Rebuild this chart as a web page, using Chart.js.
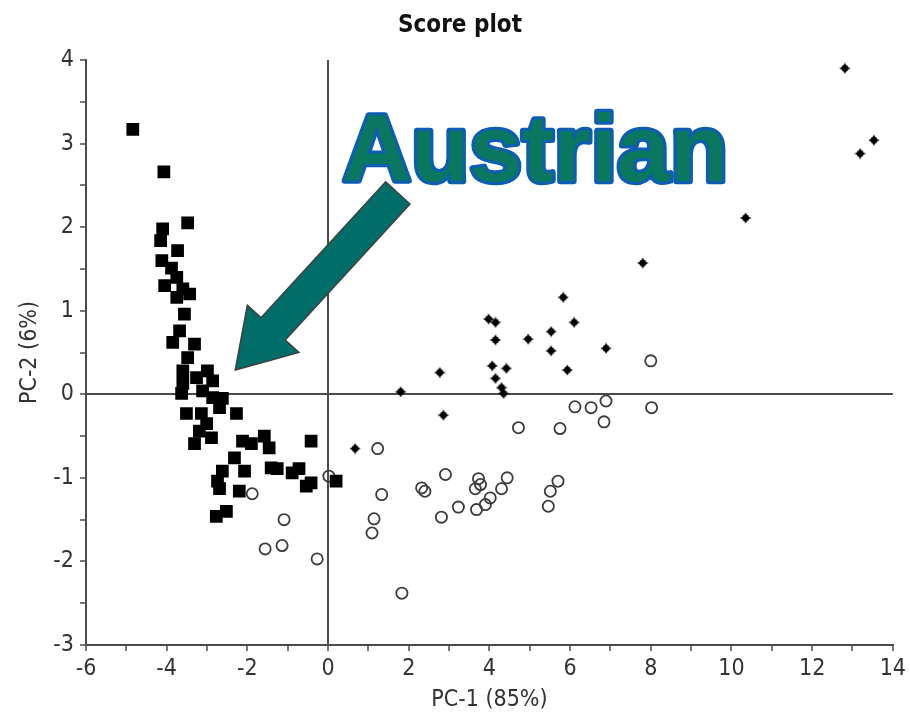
<!DOCTYPE html>
<html>
<head>
<meta charset="utf-8">
<script src="https://cdn.jsdelivr.net/npm/chart.js@4/dist/chart.umd.min.js"></script>
<style>
  html, body { margin: 0; padding: 0; background: #ffffff; }
  #wrap { width: 910px; height: 721px; }
</style>
</head>
<body>
<div id="wrap"><canvas id="c" width="910" height="721"></canvas></div>
<script>
// Score plot: PC-1 vs PC-2 scores for three sample groups

const titleText = 'Score plot';
const xTitle = 'PC-1 (85%)';
const yTitle = 'PC-2 (6%)';
const calloutText = 'Austrian';

// axis ranges and labelled ticks
const xTickLabels = [-6, -4, -2, 0, 2, 4, 6, 8, 10, 12, 14];
const yTickLabels = [-3, -2, -1, 0, 1, 2, 3, 4];

// group 1 (filled squares)
const squareX = [-4.84, -4.07, -3.48, -4.10, -4.15, -3.73, -4.12, -3.88, -3.75, -4.05, -3.60, -3.43, -3.75, -3.56, -3.68, -3.85, -3.31, -3.48, -3.60, -2.99, -2.86, -3.26, -3.60, -3.63, -3.11, -2.86, -2.62, -3.51, -3.14, -2.27, -2.69, -3.01, -3.19, -2.89, -3.31, -2.12, -1.90, -1.58, -1.46, -0.42, -2.32, -2.62, -2.07, -1.41, -1.26, -0.89, -0.72, -2.74, -2.69, -2.20, -0.54, -0.42, 0.20, -2.77, -2.52];
const squareY = [3.17, 2.66, 2.05, 1.98, 1.84, 1.72, 1.60, 1.51, 1.40, 1.30, 1.26, 1.20, 1.16, 0.96, 0.76, 0.62, 0.60, 0.44, 0.28, 0.28, 0.16, 0.20, 0.13, 0.01, 0.04, -0.04, -0.05, -0.23, -0.23, -0.23, -0.16, -0.35, -0.44, -0.52, -0.59, -0.56, -0.59, -0.50, -0.64, -0.56, -0.76, -0.92, -0.92, -0.88, -0.89, -0.94, -0.89, -1.04, -1.13, -1.16, -1.10, -1.06, -1.04, -1.46, -1.40];

// group 2 (open circles)
const circleX = [-1.88, -1.09, -1.14, -1.56, -0.27, 0.02, 1.23, 1.33, 1.14, 1.09, 1.83, 2.32, 2.40, 2.91, 2.81, 3.23, 3.73, 3.65, 3.78, 3.68, 3.90, 4.02, 4.30, 4.44, 4.72, 5.51, 5.46, 5.70, 5.75, 6.12, 6.52, 6.89, 6.84, 8.00, 8.02];
const circleY = [-1.19, -1.50, -1.81, -1.85, -1.97, -0.98, -0.65, -1.20, -1.49, -1.66, -2.38, -1.12, -1.16, -0.96, -1.47, -1.35, -1.01, -1.13, -1.08, -1.38, -1.32, -1.24, -1.13, -1.00, -0.40, -1.16, -1.34, -1.04, -0.41, -0.15, -0.16, -0.08, -0.33, 0.40, -0.16];

// group 3 (small stars)
const starX = [0.67, 1.80, 2.77, 2.86, 3.98, 4.15, 4.15, 4.07, 4.42, 4.15, 4.30, 4.35, 4.96, 5.53, 5.53, 5.83, 6.10, 5.93, 6.89, 7.80, 10.35, 12.81, 13.19, 13.53];
const starY = [-0.65, 0.03, 0.26, -0.25, 0.90, 0.86, 0.65, 0.34, 0.31, 0.19, 0.08, 0.01, 0.66, 0.75, 0.52, 1.16, 0.86, 0.29, 0.55, 1.57, 2.11, 3.90, 2.88, 3.04];

// callout arrow (tip and tail in data units) and label anchor
const arrowTip = [-2.30, 0.29];
const arrowTail = [1.73, 2.41];
const calloutAnchor = [0.36, 2.55];

function pts(xs, ys) { return xs.map((x, i) => ({ x: x, y: ys[i] })); }

// four-point star marker
function makeStar() {
  const c = document.createElement('canvas');
  c.width = 12; c.height = 12;
  const g = c.getContext('2d');
  g.fillStyle = '#000';
  g.beginPath();
  const cx = 6, cy = 6, ro = 5.8, ri = 2.6;
  for (let k = 0; k < 8; k++) {
    const a = -Math.PI / 2 + k * Math.PI / 4;
    const r = (k % 2 === 0) ? ro : ri;
    const px = cx + r * Math.cos(a), py = cy + r * Math.sin(a);
    if (k === 0) g.moveTo(px, py); else g.lineTo(px, py);
  }
  g.closePath();
  g.fill();
  g.beginPath();
  g.arc(cx, cy, 3.4, 0, Math.PI * 2);
  g.fill();
  return c;
}

const AXIS = '#4a4a4a';
const FONT = "'DejaVu Sans Condensed', 'DejaVu Sans', sans-serif";

const decorations = {
  id: 'decorations',
  afterDatasetsDraw(chart) {
    const { ctx } = chart;
    const xs = chart.scales.x, ys = chart.scales.y;
    // arrow
    const tx = xs.getPixelForValue(arrowTip[0]), ty = ys.getPixelForValue(arrowTip[1]);
    const sx = xs.getPixelForValue(arrowTail[0]), sy = ys.getPixelForValue(arrowTail[1]);
    const len = Math.hypot(sx - tx, sy - ty);
    const ux = (sx - tx) / len, uy = (sy - ty) / len;   // tip -> tail
    const nx = -uy, ny = ux;
    const headLen = 56, headHalf = 35, shaftHalf = 16.5;
    const bx = tx + ux * headLen, by = ty + uy * headLen;
    const poly = [
      [tx, ty],
      [bx + nx * headHalf, by + ny * headHalf],
      [bx + nx * shaftHalf, by + ny * shaftHalf],
      [sx + nx * shaftHalf, sy + ny * shaftHalf],
      [sx - nx * shaftHalf, sy - ny * shaftHalf],
      [bx - nx * shaftHalf, by - ny * shaftHalf],
      [bx - nx * headHalf, by - ny * headHalf]
    ];
    ctx.save();
    ctx.beginPath();
    poly.forEach((p, i) => i ? ctx.lineTo(p[0], p[1]) : ctx.moveTo(p[0], p[1]));
    ctx.closePath();
    ctx.fillStyle = '#006d68';
    ctx.fill();
    ctx.lineWidth = 1.5;
    ctx.strokeStyle = '#404040';
    ctx.stroke();
    // callout text
    const lx = xs.getPixelForValue(calloutAnchor[0]), ly = ys.getPixelForValue(calloutAnchor[1]);
    ctx.font = "bold 95px 'Liberation Sans', Arial, sans-serif";
    ctx.textAlign = 'left';
    ctx.textBaseline = 'alphabetic';
    ctx.lineJoin = 'round';
    ctx.lineWidth = 6.5;
    ctx.strokeStyle = '#0d5db0';
    ctx.strokeText(calloutText, lx, ly);
    ctx.fillStyle = '#0a775f';
    ctx.fillText(calloutText, lx, ly);
    ctx.restore();
  },
  afterDraw(chart) {
    const { ctx } = chart;
    ctx.save();
    ctx.font = "bold 24px " + FONT;
    ctx.fillStyle = '#111';
    ctx.textAlign = 'center';
    ctx.textBaseline = 'middle';
    ctx.fillText(titleText, 460, 26);
    ctx.restore();
  }
};

new Chart(document.getElementById('c'), {
  type: 'scatter',
  data: {
    datasets: [
      {
        data: pts(squareX, squareY),
        pointStyle: 'rect',
        pointRadius: 9,
        pointHoverRadius: 9,
        backgroundColor: '#000',
        borderWidth: 0
      },
      {
        data: pts(circleX, circleY),
        pointStyle: 'circle',
        pointRadius: 5.6,
        pointHoverRadius: 5.6,
        backgroundColor: 'rgba(255,255,255,0)',
        borderColor: '#3c3c3c',
        borderWidth: 1.8
      },
      {
        data: pts(starX, starY),
        pointStyle: makeStar(),
        pointRadius: 6,
        backgroundColor: '#000',
        borderWidth: 0
      }
    ]
  },
  options: {
    responsive: false,
    animation: false,
    events: [],
    layout: { padding: { top: 60, right: 14, left: 0, bottom: 0 } },
    plugins: {
      legend: { display: false },
      tooltip: { enabled: false },
      title: { display: false }
    },
    scales: {
      x: {
        type: 'linear',
        min: xTickLabels[0],
        max: xTickLabels[xTickLabels.length - 1],
        afterFit(s) { s.height = 76; },
        border: { display: true, color: AXIS, width: 2 },
        grid: {
          drawOnChartArea: true,
          color: c => (c.tick && c.tick.value === 0) ? AXIS : 'rgba(0,0,0,0)',
          lineWidth: 2,
          tickColor: AXIS,
          tickLength: 6,
          tickWidth: 1.5
        },
        ticks: {
          stepSize: 1,
          autoSkip: false,
          maxRotation: 0,
          padding: 4,
          color: '#333',
          font: { family: FONT, size: 23 },
          callback: v => xTickLabels.includes(v) ? String(v) : ''
        },
        title: {
          display: true,
          text: xTitle,
          color: '#333',
          font: { family: FONT, size: 23 },
          padding: { top: 2, bottom: 7 }
        }
      },
      y: {
        type: 'linear',
        min: yTickLabels[0],
        max: yTickLabels[yTickLabels.length - 1],
        afterFit(s) { s.width = 86; },
        border: { display: true, color: AXIS, width: 2 },
        grid: {
          drawOnChartArea: true,
          color: c => (c.tick && c.tick.value === 0) ? AXIS : 'rgba(0,0,0,0)',
          lineWidth: 2,
          tickColor: AXIS,
          tickLength: 6,
          tickWidth: 1.5
        },
        ticks: {
          stepSize: 0.5,
          autoSkip: false,
          padding: 6,
          color: '#333',
          font: { family: FONT, size: 23 },
          callback: v => yTickLabels.includes(v) ? String(v) : ''
        },
        title: {
          display: true,
          text: yTitle,
          color: '#333',
          font: { family: FONT, size: 23 },
          padding: { top: 16, bottom: 0 }
        }
      }
    }
  },
  plugins: [decorations]
});
</script>
</body>
</html>
